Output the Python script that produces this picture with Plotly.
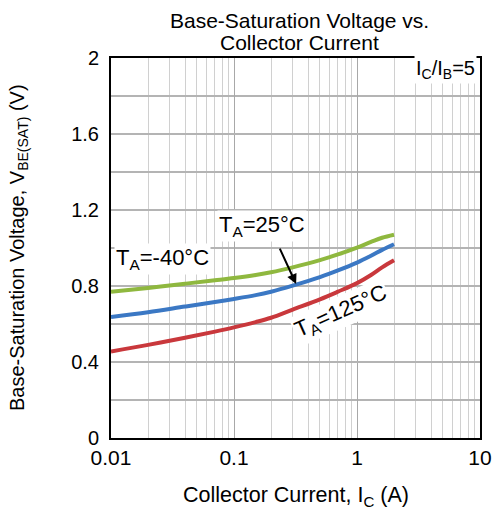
import plotly.graph_objects as go

current = [0.01, 0.02, 0.04, 0.07, 0.1, 0.15, 0.2, 0.3, 0.5, 0.7, 1.0, 1.3, 1.6, 2.0]
v_m40 = [0.770, 0.790, 0.812, 0.830, 0.842, 0.858, 0.872, 0.898, 0.936, 0.966, 1.002, 1.032, 1.054, 1.070]
v_25 = [0.637, 0.662, 0.692, 0.716, 0.732, 0.752, 0.770, 0.802, 0.847, 0.882, 0.923, 0.959, 0.990, 1.020]
v_125 = [0.455, 0.490, 0.528, 0.560, 0.582, 0.610, 0.633, 0.676, 0.730, 0.770, 0.815, 0.858, 0.898, 0.935]

x_ticks = [0.01, 0.1, 1, 10]
x_labels = ["0.01", "0.1", "1", "10"]
y_ticks = [0, 0.4, 0.8, 1.2, 1.6, 2]
y_labels = ["0", "0.4", "0.8", "1.2", "1.6", "2"]

FONT = "Liberation Sans, Arial, sans-serif"

fig = go.Figure()
for vals, col in [(v_m40, "#8fb83f"), (v_25, "#3b78c4"), (v_125, "#c9383c")]:
    fig.add_trace(go.Scatter(x=current, y=vals, mode="lines", line=dict(color=col, width=4, shape="spline"),
                             showlegend=False, hoverinfo="skip"))

fig.update_layout(
    width=503, height=513,
    margin=dict(l=111, r=11, t=58, b=75),
    paper_bgcolor="white", plot_bgcolor="white",
    font=dict(family=FONT, size=20, color="black"),
)
fig.update_xaxes(
    type="log", range=[-2, 1], tickvals=x_ticks, ticktext=x_labels, ticks="",
    showline=True, linecolor="black", linewidth=2, mirror=True,
    showgrid=True, gridcolor="#a8a8a8", gridwidth=1,
    minor=dict(dtick="D1", showgrid=True, gridcolor="#d0d0d0", gridwidth=1, ticks=""),
    tickfont=dict(size=21), zeroline=False, ticklabelstandoff=0,
)
fig.update_yaxes(
    range=[0, 2], tickvals=y_ticks, ticktext=y_labels, ticks="",
    showline=True, linecolor="black", linewidth=2, mirror=True,
    showgrid=True, gridcolor="#b4b4b4", gridwidth=2,
    minor=dict(dtick=0.2, showgrid=True, gridcolor="#b4b4b4", gridwidth=2, ticks=""),
    tickfont=dict(size=20), zeroline=False, ticklabelstandoff=6,
)

# titles
fig.add_annotation(x=0.5, y=1, xref="paper", yref="paper", yshift=38, xshift=4, yanchor="middle",
                   text="Base-Saturation Voltage vs.", showarrow=False, font=dict(size=21))
fig.add_annotation(x=0.5, y=1, xref="paper", yref="paper", yshift=16, xshift=4, yanchor="middle",
                   text="Collector Current", showarrow=False, font=dict(size=21))
fig.add_annotation(x=0.5, y=0, xref="paper", yref="paper", yshift=-58, yanchor="middle",
                   text="Collector Current, I<sub>C</sub> (A)", showarrow=False, font=dict(size=21.5))
fig.add_annotation(x=0, y=0.5, xref="paper", yref="paper", xshift=-93, xanchor="center",
                   text="Base-Saturation Voltage, V<sub>BE(SAT)</sub> (V)", showarrow=False,
                   font=dict(size=20), textangle=-90)

fig.add_annotation(x=1, y=1.937, xref="x", yref="y", xanchor="right", yanchor="middle",
                   text="I<sub>C</sub>/I<sub>B</sub>=5", showarrow=False, bgcolor="white",
                   font=dict(size=20), xshift=-3)
fig.add_annotation(x=-1.582, y=0.942, xref="x", yref="y", text="T<sub>A</sub>=-40°C",
                   showarrow=False, bgcolor="white", font=dict(size=22))
fig.add_annotation(x=-0.769, y=1.116, xref="x", yref="y", text="T<sub>A</sub>=25°C",
                   showarrow=False, bgcolor="white", font=dict(size=22))
fig.add_annotation(x=-0.495, y=0.81, xref="x", yref="y", text="", showarrow=True,
                   ax=-17, ay=-37, arrowhead=2, arrowsize=1, arrowwidth=2, arrowcolor="black")
fig.add_annotation(x=-0.129, y=0.663, xref="x", yref="y", text="T<sub>A</sub>=125°C",
                   showarrow=False, bgcolor="white", font=dict(size=22), textangle=-24)

fig.write_html("out.html")
